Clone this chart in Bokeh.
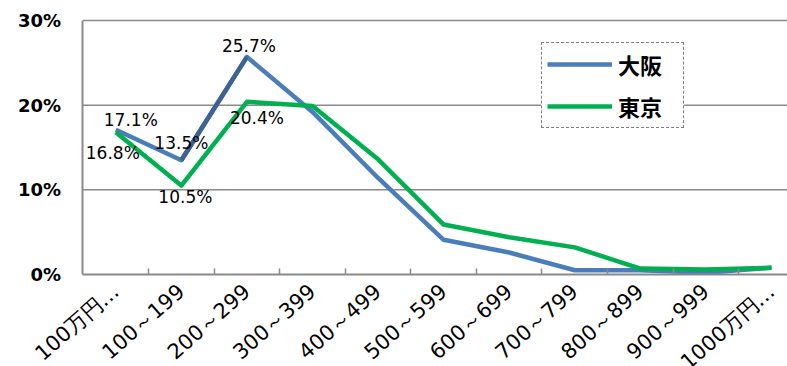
import math
from bokeh.plotting import figure
from bokeh.models import (ColumnDataSource, FixedTicker, Range1d, Legend, LegendItem)
from bokeh.core.properties import value
from bokeh.embed import file_html
from bokeh.resources import INLINE

categories = ["100万円…", "100～199", "200～299", "300～399", "400～499", "500～599",
              "600～699", "700～799", "800～899", "900～999", "1000万円…"]
osaka = [17.1, 13.5, 25.7, 19.2, 11.4, 4.1, 2.6, 0.5, 0.5, 0.2, 0.8]
tokyo = [16.8, 10.5, 20.4, 19.9, 13.6, 5.9, 4.4, 3.2, 0.7, 0.6, 0.8]
y_ticks = [0, 10, 20, 30]
series_names = ["大阪", "東京"]

xs = list(range(len(categories)))

X0, X1 = -1.758, 10.244      # visible x span (category units); y axis sits at -0.5
Y0, Y1 = -10.866, 32.36      # visible y span; x axis sits at 0

p = figure(width=787, height=366, output_backend="svg", toolbar_location=None,
           x_range=Range1d(X0, X1), y_range=Range1d(Y0, Y1),
           min_border_left=0, min_border_right=0, min_border_top=0, min_border_bottom=0)
p.title.visible = False
p.outline_line_color = None
p.background_fill_color = "white"
p.border_fill_color = "white"

GRAY = "#8a8a8a"
xa = p.xaxis[0]
xa.fixed_location = 0
xa.bounds = (-0.5, X1)
xa.ticker = FixedTicker(ticks=xs, minor_ticks=[i + 0.5 for i in range(len(categories) - 1)])
xa.major_label_overrides = {i: c for i, c in enumerate(categories)}
xa.major_label_orientation = 0.72
xa.major_tick_line_color = None
xa.major_tick_in = 0
xa.major_tick_out = 0
xa.minor_tick_in = 6
xa.minor_tick_out = 0
xa.minor_tick_line_color = GRAY
xa.minor_tick_line_width = 1.5
xa.axis_line_color = GRAY
xa.axis_line_width = 2
xa.major_label_text_font = "DejaVu Sans"
xa.major_label_text_font_size = "21px"
xa.major_label_text_color = "#000000"
xa.major_label_standoff = 14

ya = p.yaxis[0]
ya.fixed_location = -0.5
ya.bounds = (0, 30)
ya.ticker = FixedTicker(ticks=y_ticks)
ya.major_label_overrides = {t: f"{t}%" for t in y_ticks}
ya.major_tick_line_color = None
ya.major_tick_in = 0
ya.major_tick_out = 0
ya.minor_tick_line_color = None
ya.axis_line_color = GRAY
ya.axis_line_width = 2
ya.major_label_text_font = "DejaVu Sans"
ya.major_label_text_font_style = "bold"
ya.major_label_text_font_size = "18px"
ya.major_label_text_color = "#000000"
ya.major_label_standoff = 22

p.xgrid.grid_line_color = None
p.ygrid.grid_line_color = None
gy = y_ticks[1:]
p.segment(x0=[-0.5] * len(gy), y0=gy, x1=[X1] * len(gy), y1=gy,
          line_color=GRAY, line_width=1.5)

BLUE = "#4A7EBB"
GREEN = "#00B050"

r_osaka = p.line(xs, osaka, line_color=BLUE, line_width=4.5, line_join="round")
# darker shaded segment as in the reference
p.line(xs[1:3], osaka[1:3], line_color="#3C6393", line_width=4.5, line_join="round")
r_tokyo = p.line(xs, tokyo, line_color=GREEN, line_width=4.5, line_join="round")

# data labels for first three categories
lab_x = xs[:3] + xs[:3]
lab_y = osaka[:3] + tokyo[:3]
lab_t = [f"{v:.1f}%" for v in lab_y]
x_off = [15, 0, 2, -3, 4, 10]
y_off = [-10, -17, -11, 21, 11, 16]
src = ColumnDataSource(dict(x=lab_x, y=lab_y, t=lab_t, xo=x_off, yo=y_off))
p.text(x="x", y="y", text="t", source=src, x_offset="xo", y_offset="yo",
       text_align="center", text_baseline="middle", text_font=value("DejaVu Sans"),
       text_font_size="17px", text_color="#000000")

legend = Legend(items=[LegendItem(label=series_names[0], renderers=[r_osaka]),
                       LegendItem(label=series_names[1], renderers=[r_tokyo])],
                location=(541, 238))
legend.border_line_color = "#000000"
legend.border_line_dash = "3 2"
legend.border_line_width = 1.5
legend.background_fill_color = "white"
legend.background_fill_alpha = 1
legend.label_text_font = "Noto Sans CJK JP"
legend.label_text_font_style = "bold"
legend.label_text_font_size = "22px"
legend.label_text_color = "#000000"
legend.glyph_width = 65
legend.glyph_height = 22
legend.label_height = 22
legend.label_width = 60
legend.label_standoff = 6
legend.padding = 5
legend.spacing = 10
legend.margin = 0
p.add_layout(legend)

open("out.html", "w").write(file_html(p, INLINE))
